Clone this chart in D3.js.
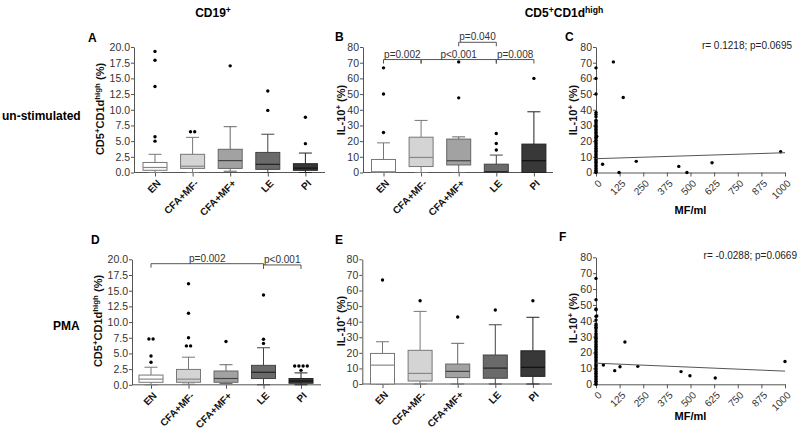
<!DOCTYPE html>
<html><head><meta charset="utf-8">
<script src="https://cdn.jsdelivr.net/npm/d3@7"></script>
<style>body{margin:0;background:#fff;} svg{display:block;font-family:Arial,"Liberation Sans",sans-serif;}</style>
</head><body><svg id="c" width="800" height="431"></svg>
<script>
// ---------- data ----------
const categories = ["EN","CFA+MF-","CFA+MF+","LE","PI"];
const boxFill = ["#ffffff","#d4d4d4","#a2a2a2","#6a6a6a","#383838"];
const boxStroke = ["#777777","#777777","#666666","#444444","#222222"];
const medianStroke = ["#888888","#888888","#444444","#222222","#111111"];

// [min, q1, median, q3, max]
const statsA = [[0,0.35,0.8,1.6,2.9],[0,0.65,1.0,2.9,5.6],[0.2,0.65,1.9,3.7,7.3],[0,0.5,1.3,3.2,6.1],[0,0.35,0.7,1.4,3.1]];
const outliersA = [[19.3,17.9,13.7,5.7,5.0],[6.5,6.5],[17.0],[13.0,9.9],[8.8,4.6]];
const statsB = [[0,0,0.5,8.3,18.9],[0,3.8,9.6,22.5,33.2],[0,4.8,7.5,21.3,22.7],[0,0,0.5,5.3,11.1],[0,0,7.5,18.1,38.7]];
const outliersB = [[66.7,50,25.5],[],[70.5,47.6],[24.9,18.5,14.3],[60]];
const statsD = [[0,0.4,0.9,1.55,2.8],[0.1,0.4,0.9,2.45,4.4],[0.2,0.4,1.0,2.2,3.2],[0,1.0,2.0,3.1,5.9],[0,0.25,0.6,1.0,1.9]];
const outliersD = [[7.3,7.3,4.6,3.6],[16.1,11.4,7.5,6.2,6.2],[6.9],[14.3,7.25,6.6],[3.0,3.0,3.0,3.0,2.3]];
const statsE = [[0,0,12.1,19.6,27.1],[0,1.9,6.8,21.6,46.6],[0,4.1,8.1,12.8,26.1],[0,3.7,10.2,18.6,38.0],[0,4.9,10.7,21.3,42.8]];
const outliersE = [[66.7],[53.4],[43.0],[47.5],[53.4]];

const ticksPct = [0,2.5,5,7.5,10,12.5,15,17.5,20];
const ticksIL = [0,10,20,30,40,50,60,70,80];
const ticksMF = [0,125,250,375,500,625,750,875,1000];

const zeroColC = [66.7,60,50,38.3,37,35.5,33.3,32.5,31.5,30.5,29.5,28.5,27.5,26.5,25.5,24.5,23.5,22.5,21.5,20.5,19.5,18.5,17.5,16.5,15.5,14.5,13.5,12.5,11.5,10.5,9.5,8.5,7.5,6.5,5.5,4.5,3.5,2.5,1.5,0.5,0];
const mfC = [4,35,92,122,144,213,438,481,614,977];
const ilC = [23,5.3,70.5,0,47.8,7.1,3.9,0,6.2,13.2];
const fitC = [[0,8.8],[1000,12.6]];
const zeroColF = [66.7,53.3,47.5,47,42.8,40.5,38,37,36,35,33.5,32,31,30,29,28,27,26,25,24,23,22,21,20,19,18,17,16,15,14,13,12,11,10,9,8,7,6,5,4,3,2,1,0];
const mfF = [4,39,99,127,153,221,450,497,631,1000];
const ilF = [43,12.2,8.6,11.1,26.6,11.3,8.0,5.4,4.0,14.4];
const fitF = [[0,13.3],[1000,8.3]];

// ---------- drawing ----------
const svg = d3.select("#c");
const AX = "#555";

function supText(sel, parts){
  parts.forEach(([t,s],i)=>{
    const ts = sel.append("tspan").text(t);
    if(s){ ts.attr("dy",-4).attr("font-size","0.72em"); }
    else if(i>0 && parts[i-1][1]){ ts.attr("dy",4); }
  });
}

function rotLabels(g, items, xf, yBase, opts){
  items.forEach(d=>{
    g.append("text").attr("transform",`translate(${xf(d)+4},${yBase+9}) rotate(-45)`)
      .attr("dy","0.35em").attr("text-anchor","end").attr("font-size",opts.size)
      .attr("font-weight",opts.bold?"bold":"normal").attr("fill",opts.fill).text(opts.fmt?opts.fmt(d):d);
  });
}

function boxPanel(c){
  const y = d3.scaleLinear().domain([0,c.max]).range([c.yBot,c.yTop]);
  const x = d3.scalePoint().domain(categories).range([c.cat0, c.cat0+4*c.step]);
  const g = svg.append("g");
  const ya = g.append("g").attr("transform",`translate(${c.axisX},0)`)
    .call(d3.axisLeft(y).tickValues(c.ticks).tickSize(3).tickSizeOuter(0).tickFormat(c.fmt));
  ya.selectAll("path,line").attr("stroke",AX);
  ya.selectAll("text").attr("font-size",10.5).attr("fill","#333").attr("x",-4).attr("font-family","Arial");
  const xa = g.append("g").attr("transform",`translate(0,${c.yBot})`)
    .call(d3.axisBottom(x).tickSize(4).tickSizeOuter(0));
  xa.select(".domain").remove();
  xa.selectAll("text").remove();
  xa.selectAll("line").attr("stroke",AX);
  rotLabels(g, categories, x, c.yBot, {size:10, bold:true, fill:"#111"});
  g.append("line").attr("x1",c.axisX).attr("x2",c.xEnd).attr("y1",c.yBot).attr("y2",c.yBot).attr("stroke",AX);
  const bw = 24, cw = 13;
  categories.forEach((cat,i)=>{
    const [mn,q1,md,q3,mx] = c.stats[i];
    const cx = x(cat);
    const bg = g.append("g");
    bg.append("line").attr("x1",cx).attr("x2",cx).attr("y1",y(mx)).attr("y2",y(q3)).attr("stroke",boxStroke[i]);
    bg.append("line").attr("x1",cx).attr("x2",cx).attr("y1",y(q1)).attr("y2",y(mn)).attr("stroke",boxStroke[i]);
    bg.append("line").attr("x1",cx-cw/2).attr("x2",cx+cw/2).attr("y1",y(mx)).attr("y2",y(mx)).attr("stroke",boxStroke[i]);
    bg.append("line").attr("x1",cx-cw/2).attr("x2",cx+cw/2).attr("y1",y(mn)).attr("y2",y(mn)).attr("stroke",boxStroke[i]);
    bg.append("rect").attr("x",cx-bw/2).attr("width",bw).attr("y",y(q3)).attr("height",Math.max(0.5,y(q1)-y(q3)))
      .attr("fill",boxFill[i]).attr("stroke",boxStroke[i]);
    bg.append("line").attr("x1",cx-bw/2).attr("x2",cx+bw/2).attr("y1",y(md)).attr("y2",y(md)).attr("stroke",medianStroke[i]).attr("stroke-width",1.2);
    const counts = d3.rollup(c.out[i], v=>v.length, d=>d);
    const seen = new Map();
    c.out[i].forEach(v=>{
      const n = counts.get(v), k = seen.get(v)||0; seen.set(v,k+1);
      const off = (k-(n-1)/2)*4.2;
      bg.append("circle").attr("cx",cx+off).attr("cy",y(v)).attr("r",1.7).attr("fill","#000");
    });
  });
  (c.brackets||[]).forEach(b=>{
    const ly = y(b.level);
    const x1 = x(b.from), x2 = x(b.to);
    g.append("path").attr("d",`M${x1},${ly+4}V${ly}H${x2}V${ly+4}`).attr("fill","none").attr("stroke",AX);
    g.append("text").attr("x",(x1+x2)/2).attr("y",ly-2).attr("text-anchor","middle")
      .attr("font-size",10).attr("fill","#333").text(b.label);
  });
  const t = g.append("text").attr("transform",`translate(${c.titleX},${c.titleY}) rotate(-90)`)
    .attr("text-anchor","middle").attr("font-size",11).attr("font-weight","bold").attr("fill","#111");
  supText(t, c.title);
  g.append("text").attr("x",c.letter[1]).attr("y",c.letter[2]).attr("font-size",12).attr("font-weight","bold").text(c.letter[0]);
}

function scatterPanel(c){
  const x = d3.scaleLinear().domain([0,1000]).range([596,785]);
  const y = d3.scaleLinear().domain([0,80]).range([c.yBot,c.yTop]);
  const g = svg.append("g");
  const ya = g.append("g").attr("transform",`translate(596,0)`)
    .call(d3.axisLeft(y).tickValues(ticksIL).tickSize(3).tickSizeOuter(0));
  ya.selectAll("path,line").attr("stroke",AX);
  ya.selectAll("text").attr("font-size",10.5).attr("fill","#333").attr("x",-4);
  const xa = g.append("g").attr("transform",`translate(0,${c.yBot})`)
    .call(d3.axisBottom(x).tickValues(ticksMF).tickSize(4).tickSizeOuter(0));
  xa.selectAll("path,line").attr("stroke",AX);
  xa.selectAll("text").remove();
  rotLabels(g, ticksMF, x, c.yBot, {size:10, bold:false, fill:"#333", fmt:d3.format("d")});
  c.zero.forEach(v=>g.append("circle").attr("cx",x(0)).attr("cy",y(v)).attr("r",1.7).attr("fill","#000"));
  c.mf.forEach((m,i)=>g.append("circle").attr("cx",x(m)).attr("cy",y(c.il[i])).attr("r",1.7).attr("fill","#000"));
  g.append("path").datum(c.fit).attr("d",d3.line().x(d=>x(d[0])).y(d=>y(d[1]))).attr("fill","none").attr("stroke","#555");
  g.append("text").attr("x",x(500)).attr("y",c.mfY).attr("text-anchor","middle").attr("font-size",11).attr("font-weight","bold").text("MF/ml");
  g.append("text").attr("x",c.rx).attr("y",c.yTop+2).attr("text-anchor","end").attr("font-size",10).attr("fill","#222").text(c.r);
  const t = g.append("text").attr("transform",`translate(577,${c.titleY}) rotate(-90)`)
    .attr("text-anchor","middle").attr("font-size",11).attr("font-weight","bold").attr("fill","#111");
  supText(t, [["IL-10",false],["+",true],[" (%)",false]]);
  g.append("text").attr("x",c.letter[1]).attr("y",c.letter[2]).attr("font-size",12).attr("font-weight","bold").text(c.letter[0]);
}

const pctTitle = [["CD5",false],["+",true],["CD1d",false],["high",true],[" (%)",false]];
const ilTitle = [["IL-10",false],["+",true],[" (%)",false]];

boxPanel({axisX:134,xEnd:325,cat0:155,step:37.6,yTop:47,yBot:172.5,max:20,ticks:ticksPct,fmt:d3.format(".1f"),
  stats:statsA,out:outliersA,title:pctTitle,titleX:104,titleY:109,letter:["A",88,42]});
boxPanel({axisX:363,xEnd:553,cat0:383.5,step:37.6,yTop:47,yBot:172.5,max:80,ticks:ticksIL,fmt:d3.format("d"),
  stats:statsB,out:outliersB,title:ilTitle,titleX:345,titleY:110,letter:["B",335,41],
  brackets:[{from:"EN",to:"CFA+MF-",level:72,label:"p=0.002"},{from:"CFA+MF-",to:"LE",level:72,label:"p<0.001"},
            {from:"LE",to:"PI",level:72,label:"p=0.008"},{from:"CFA+MF+",to:"LE",level:83,label:"p=0.040"}]});
boxPanel({axisX:132,xEnd:321,cat0:151,step:37.5,yTop:259.3,yBot:384.8,max:20,ticks:ticksPct,fmt:d3.format(".1f"),
  stats:statsD,out:outliersD,title:pctTitle,titleX:102,titleY:321,letter:["D",91,244],
  brackets:[{from:"EN",to:"LE",level:19.3,label:"p=0.002"},{from:"LE",to:"PI",level:19.1,label:"p<0.001"}]});
boxPanel({axisX:362.3,xEnd:552,cat0:382.5,step:37.6,yTop:259.3,yBot:384,max:80,ticks:ticksIL,fmt:d3.format("d"),
  stats:statsE,out:outliersE,title:ilTitle,titleX:345,titleY:321,letter:["E",335,244]});
scatterPanel({yTop:47,yBot:172.5,zero:zeroColC,mf:mfC,il:ilC,fit:fitC,r:"r= 0.1218; p=0.0695",rx:792,titleY:110,mfY:214,letter:["C",565,41]});
scatterPanel({yTop:257.3,yBot:384.3,zero:zeroColF,mf:mfF,il:ilF,fit:fitF,r:"r= -0.0288; p=0.0669",rx:797,titleY:318,mfY:420,letter:["F",559,241]});

const h1 = svg.append("text").attr("x",213).attr("y",17).attr("text-anchor","middle").attr("font-size",12).attr("font-weight","bold");
supText(h1, [["CD19",false],["+",true]]);
const h2 = svg.append("text").attr("x",564).attr("y",17).attr("text-anchor","middle").attr("font-size",12).attr("font-weight","bold");
supText(h2, [["CD5",false],["+",true],["CD1d",false],["high",true]]);
svg.append("text").attr("x",2).attr("y",120).attr("font-size",12).attr("font-weight","bold").text("un-stimulated");
svg.append("text").attr("x",53).attr("y",330).attr("font-size",12).attr("font-weight","bold").text("PMA");
</script></body></html>
